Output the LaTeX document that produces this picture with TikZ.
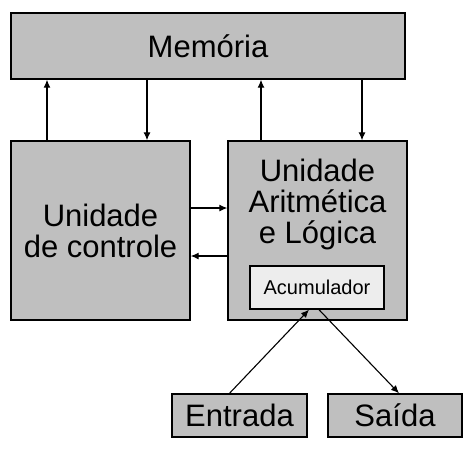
\documentclass[tikz,border=0pt]{standalone}
\usepackage{fontspec}
\setmainfont{Liberation Sans}
\usepackage{tikz}
\usetikzlibrary{arrows.meta}

\begin{document}
\begin{tikzpicture}[x=1pt,y=-1pt]
\tikzstyle{every node}=[inner sep=0pt]
\tikzstyle{box}=[draw,line width=1.4pt,fill=black!25,font=\fontsize{31}{31}\selectfont,align=center]
\tikzstyle{seta}=[line width=1.1pt,-{Latex[length=8pt,width=7pt]}]
\useasboundingbox (0,0) rectangle (474,451);

\node[box,minimum width=394pt,minimum height=66pt] (mem) at (208,46) {Memória};
\node[box,minimum width=179pt,minimum height=179pt] (ctrl) at (100.5,230.5) {Unidade\\de controle};
\node[box,minimum width=179pt,minimum height=179pt] (alu) at (317.5,230.5) {};
\node[font=\fontsize{31}{31}\selectfont,align=center] (alutxt) at (317.5,204) {Unidade\\Aritmética\\e Lógica};
\node[box,fill=black!7,minimum width=134pt,minimum height=43pt,font=\fontsize{20}{20}\selectfont] (acc) at (317,287.5) {Acumulador};
\node[box,minimum width=135pt,minimum height=43pt] (ent) at (239.5,415.5) {Entrada};
\node[box,minimum width=134pt,minimum height=43pt] (sai) at (395,415.5) {Saída};

% memoria
\draw[seta] ([xshift=-53.5pt]ctrl.north) -- ([xshift=-53.5pt]ctrl.north |- mem.south);
\draw[seta] ([xshift=46.5pt]ctrl.north |- mem.south) -- ([xshift=46.5pt]ctrl.north);
\draw[seta] ([xshift=-56.5pt]alu.north) -- ([xshift=-56.5pt]alu.north |- mem.south);
\draw[seta] ([xshift=44.5pt]alu.north |- mem.south) -- ([xshift=44.5pt]alu.north);

% controle e ula
\draw[seta] ([yshift=22.5pt]ctrl.east) -- ([yshift=22.5pt]alu.west);
\draw[seta] ([yshift=-25.5pt]alu.west) -- ([yshift=-25.5pt]ctrl.east);

% entrada e saida
\draw[seta] ([xshift=-10pt]ent.north) -- ([xshift=-8pt]acc.south);
\draw[seta] ([xshift=2pt]acc.south) -- ([xshift=4pt]sai.north);
\end{tikzpicture}
\end{document}
